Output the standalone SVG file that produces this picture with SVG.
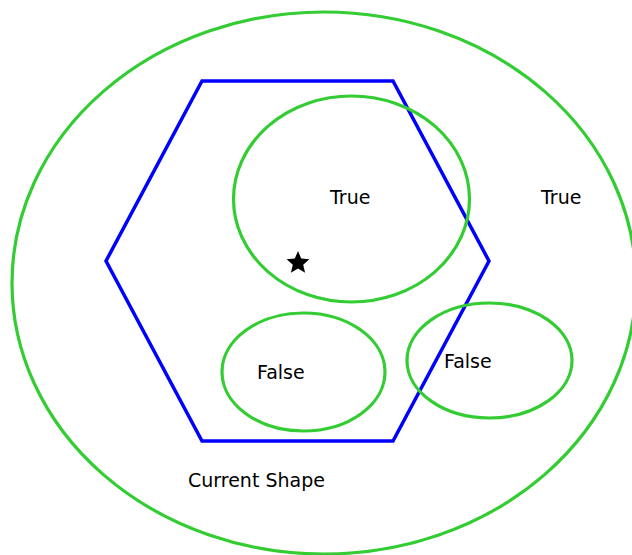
<svg xmlns="http://www.w3.org/2000/svg" width="632" height="555" viewBox="0 0 632 555">
<style>
.g{fill:none;stroke:#33cc33;stroke-width:3.2}
.b{fill:none;stroke:#0000ff;stroke-width:3.5;stroke-linejoin:miter}
.t{font-family:"DejaVu Sans",sans-serif;font-size:19px;fill:#000}
</style>
<rect width="632" height="555" fill="#fff"/>
<g id="outer"><ellipse class="g" cx="324" cy="283" rx="312" ry="271"/><text class="t" x="541" y="204">True</text></g>
<g id="current-shape"><polygon class="b" points="202,81 393,81 489,261 393,441 202,441 106,261"/><text class="t" x="188" y="487">Current Shape</text></g>
<g id="true-inner"><ellipse class="g" cx="351.5" cy="199" rx="118" ry="103"/><text class="t" x="330" y="204">True</text></g>
<g id="false-left"><ellipse class="g" cx="303.5" cy="372" rx="81.5" ry="59"/><text class="t" x="257" y="379">False</text></g>
<g id="false-right"><ellipse class="g" cx="489.5" cy="360.5" rx="82.5" ry="57.5"/><text class="t" x="444" y="368">False</text></g>
<g id="star"><polygon fill="#000" points="298,251 301.2,258.6 309.4,259.3 303.2,264.7 305.1,272.7 298,268.5 290.9,272.7 292.8,264.7 286.6,259.3 294.8,258.6"/></g>
<g id="connectors"/>
</svg>
